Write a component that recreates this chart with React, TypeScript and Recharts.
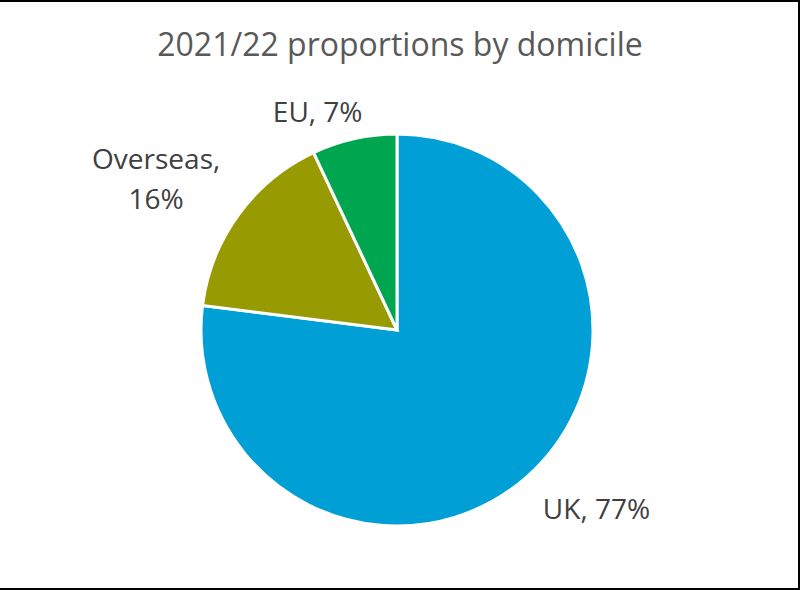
import React from "react";
import { PieChart, Pie, Cell } from "recharts";

const domiciles = ["UK", "Overseas", "EU"];
const shares = [77, 16, 7];
const colours = ["#009FD6", "#979A00", "#00A54F"];

const data = domiciles.map((name, i) => ({ name, value: shares[i] }));

// label placement tweaks (px) relative to a point just outside the slice
const labelNudge: Record<string, [number, number]> = {
  UK: [50, 19],
  Overseas: [-58, -28],
  EU: [-30, 13],
};

const RADIAN = Math.PI / 180;
const FONT = "'Open Sans', sans-serif";

const renderLabel = (props: any) => {
  const { cx, cy, midAngle, outerRadius, name, value } = props;
  const r = outerRadius + 30;
  const [nx, ny] = labelNudge[name] || [0, 0];
  const x = cx + r * Math.cos(-midAngle * RADIAN) + nx;
  const y = cy + r * Math.sin(-midAngle * RADIAN) + ny;
  const wrap = name.length > 6;
  return (
    <text
      x={x}
      y={y}
      textAnchor="middle"
      fill="#404040"
      fontSize={28}
      fontFamily={FONT}
    >
      {wrap ? (
        <>
          <tspan x={x} dy={0}>{name},</tspan>
          <tspan x={x} dy={40}>{value}%</tspan>
        </>
      ) : (
        `${name}, ${value}%`
      )}
    </text>
  );
};

export default function App() {
  return (
    <div
      style={{
        position: "fixed",
        top: 0,
        left: 0,
        width: 800,
        height: 590,
        boxSizing: "border-box",
        borderTop: "2px solid #000",
        borderRight: "2px solid #000",
        borderBottom: "2px solid #000",
        background: "#fff",
      }}
    >
      <div
        style={{
          position: "absolute",
          top: 20,
          left: 0,
          width: 800,
          textAlign: "center",
          fontFamily: FONT,
          fontSize: 32,
          color: "#595959",
          lineHeight: "44px",
        }}
      >
        2021/22 proportions by domicile
      </div>
      <div style={{ position: "absolute", top: 0, left: 0 }}>
        <PieChart width={800} height={590}>
          <Pie
            data={data}
            dataKey="value"
            nameKey="name"
            cx={392}
            cy={323}
            outerRadius={196}
            startAngle={90}
            endAngle={-270}
            stroke="#fff"
            strokeWidth={3}
            label={renderLabel}
            labelLine={false}
            isAnimationActive={false}
          >
            {data.map((d, i) => (
              <Cell key={d.name} fill={colours[i]} />
            ))}
          </Pie>
        </PieChart>
      </div>
    </div>
  );
}
